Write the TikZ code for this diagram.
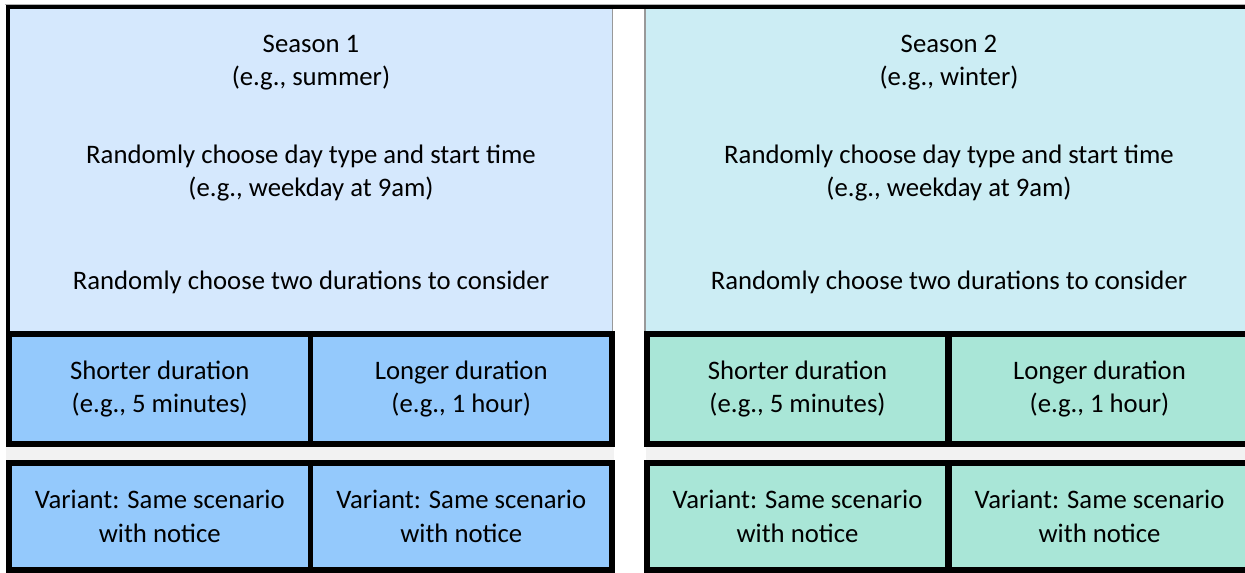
\documentclass[tikz,border=0pt]{standalone}
\usepackage{fontspec}
\setmainfont{Carlito}
\usepackage{tikz}
\usetikzlibrary{positioning}

\definecolor{topblue}{HTML}{D5E8FD}
\definecolor{topteal}{HTML}{CCEDF4}
\definecolor{cellblue}{HTML}{94C9FC}
\definecolor{cellteal}{HTML}{A9E6D7}
\definecolor{stripgray}{HTML}{F2F2F2}

\tikzset{
	cell/.style={draw=black,line width=4.2pt,align=center,inner sep=0pt,
		minimum width=301.5*0.025cm},
	label/.style={align=center,inner sep=0pt},
}

\begin{document}
\begin{tikzpicture}[x=0.025cm,y=-0.025cm,
	font=\fontsize{19}{23.8}\selectfont]
	\useasboundingbox (0,0) rectangle (1245,573);
	\clip (0,0) rectangle (1245,573);
	
	% season panels
	\fill[topblue] (9,8) rectangle (612,334);
	\fill[topteal] (646,8) rectangle (1245,334);
	\draw[gray!80,line width=0.6pt] (612,8) -- (612,334);
	\draw[gray!80,line width=1pt] (645,8) -- (645,334);
	\draw[gray!60,line width=0.4pt] (5,4) -- (1245,4);
	\fill[black] (6,5) rectangle (1245,8.5);
	\fill[black] (6,5) rectangle (10,334);
	
	\node[label] (s1title) at (311,62.5) {Season 1\\(e.g., summer)};
	\node[label] (s1day) at (311,173) {Randomly choose day type and start time\\(e.g., weekday at 9am)};
	\node[label] (s1dur) at (311,282) {Randomly choose two durations to consider};
	
	\node[label] (s2title) at (949,62.5) {Season 2\\(e.g., winter)};
	\node[label] (s2day) at (949,173) {Randomly choose day type and start time\\(e.g., weekday at 9am)};
	\node[label] (s2dur) at (949,282) {Randomly choose two durations to consider};
	
	% strip between the rows
	\fill[stripgray] (6,447) rectangle (614,460);
	\fill[stripgray] (646,447) rectangle (1245,460);
	
	% duration cells
	\node[cell,fill=cellblue,minimum height=110*0.025cm] (s1short) at (159.75,389) {Shorter duration\\(e.g., 5 minutes)};
	\node[cell,fill=cellblue,minimum height=110*0.025cm] (s1long) at (461.25,389) {Longer duration\\(e.g., 1 hour)};
	\node[cell,fill=cellteal,minimum height=110*0.025cm] (s2short) at (797.5,389) {Shorter duration\\(e.g., 5 minutes)};
	\node[cell,fill=cellteal,minimum height=110*0.025cm] (s2long) at (1099.5,389) {Longer duration\\(e.g., 1 hour)};
	
	% variant cells
	\node[cell,fill=cellblue,minimum height=107*0.025cm] (v1short) at (159.75,516.5) {Variant: Same scenario\\with notice};
	\node[cell,fill=cellblue,minimum height=107*0.025cm] (v1long) at (461.25,516.5) {Variant: Same scenario\\with notice};
	\node[cell,fill=cellteal,minimum height=107*0.025cm] (v2short) at (797.5,516.5) {Variant: Same scenario\\with notice};
	\node[cell,fill=cellteal,minimum height=107*0.025cm] (v2long) at (1099.5,516.5) {Variant: Same scenario\\with notice};
\end{tikzpicture}
\end{document}
